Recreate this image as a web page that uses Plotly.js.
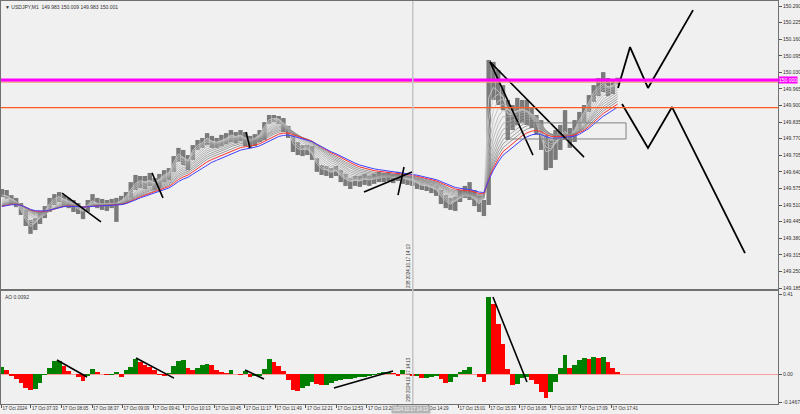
<!DOCTYPE html>
<html><head><meta charset="utf-8">
<script src="https://cdn.plot.ly/plotly-3.0.1.min.js"></script>
<style>html,body{margin:0;padding:0;background:#f0f0f0;}#chart{width:800px;height:414px;}</style>
</head><body><div id="chart"></div>
<script>
// ---------- texts ----------
const symbolLabel = '\u25BC USDJPY,M1  149.983 150.009 149.983 150.001';
const aoLabel = 'AO 0.0092';
const crosshairText = '2024.10.17 14:13';
const crosshairSideText = '238 2024.10.17 14:13';
const levelTagText = '150.000';

// ---------- time buckets (minutes after 07:00, 5-minute buckets) ----------
const bucketMinutes = 5;

// ---------- price ----------
const priceHigh = [
149.573,149.569,149.549,149.538,149.518,149.491,149.451,149.459,149.483,149.506,
149.538,149.553,149.561,149.549,149.538,149.530,149.518,149.506,149.530,149.553,
149.538,149.534,149.530,149.534,149.538,149.546,149.561,149.600,149.628,149.624,
149.624,149.636,149.616,149.632,149.647,149.655,149.702,149.734,149.726,149.706,
149.745,149.765,149.773,149.792,149.781,149.773,149.785,149.792,149.804,149.796,
149.804,149.796,149.781,149.788,149.804,149.835,149.863,149.863,149.859,149.851,
149.820,149.785,149.757,149.745,149.745,149.741,149.694,149.667,149.663,149.655,
149.663,149.647,149.632,149.616,149.624,149.624,149.632,149.624,149.632,149.640,
149.636,149.640,149.632,149.640,149.632,149.624,149.624,149.612,149.604,149.600,
149.593,149.585,149.569,149.549,149.538,149.542,149.569,149.585,149.600,149.569,
149.546,149.530,150.078,150.071,150.039,149.980,149.922,149.902,149.930,149.922,
149.922,149.890,149.863,149.843,149.785,149.765,149.804,149.824,149.882,149.812,
149.843,149.875,149.902,149.941,149.980,150.008,150.031,150.008,150.000,150.009];
const priceLow = [
149.542,149.534,149.514,149.502,149.471,149.428,149.397,149.412,149.436,149.459,
149.483,149.510,149.522,149.506,149.498,149.483,149.475,149.455,149.483,149.510,
149.498,149.491,149.487,149.498,149.444,149.510,149.518,149.538,149.569,149.577,
149.573,149.585,149.569,149.577,149.600,149.608,149.640,149.679,149.667,149.647,
149.687,149.726,149.734,149.745,149.734,149.734,149.741,149.749,149.757,149.753,
149.761,149.741,149.734,149.741,149.757,149.765,149.828,149.835,149.828,149.796,
149.773,149.718,149.706,149.702,149.706,149.687,149.640,149.628,149.624,149.616,
149.624,149.600,149.585,149.573,149.585,149.581,149.589,149.585,149.593,149.600,
149.600,149.604,149.596,149.604,149.593,149.589,149.585,149.573,149.569,149.565,
149.557,149.546,149.514,149.498,149.491,149.487,149.522,149.538,149.530,149.506,
149.483,149.467,149.510,149.922,149.902,149.882,149.765,149.804,149.824,149.835,
149.824,149.812,149.785,149.726,149.647,149.655,149.687,149.726,149.765,149.734,
149.757,149.804,149.835,149.875,149.914,149.937,149.953,149.937,149.945,149.983];
const priceClose = [
149.561,149.546,149.530,149.514,149.483,149.444,149.420,149.444,149.471,149.491,
149.522,149.538,149.546,149.530,149.518,149.506,149.491,149.483,149.518,149.530,
149.514,149.510,149.514,149.514,149.518,149.530,149.546,149.577,149.600,149.608,
149.600,149.608,149.593,149.616,149.632,149.640,149.687,149.718,149.694,149.679,
149.734,149.749,149.757,149.777,149.757,149.753,149.765,149.773,149.788,149.777,
149.785,149.765,149.757,149.773,149.788,149.824,149.851,149.851,149.847,149.820,
149.796,149.741,149.726,149.726,149.730,149.706,149.663,149.647,149.647,149.636,
149.647,149.620,149.608,149.600,149.608,149.604,149.616,149.608,149.616,149.624,
149.624,149.628,149.616,149.624,149.616,149.608,149.608,149.593,149.585,149.585,
149.577,149.569,149.538,149.522,149.510,149.530,149.546,149.561,149.546,149.530,
149.510,149.546,150.020,149.980,149.953,149.930,149.851,149.863,149.882,149.890,
149.875,149.851,149.824,149.765,149.706,149.726,149.765,149.785,149.804,149.773,
149.812,149.851,149.882,149.922,149.961,149.977,149.992,149.969,149.980,150.001];

// ---------- Awesome Oscillator ----------
const aoValues = [
0.036,0.021,-0.010,-0.026,-0.046,-0.072,-0.082,-0.077,-0.046,-0.005,
0.031,0.067,0.067,0.041,0.015,-0.002,-0.015,-0.036,-0.010,0.026,
0.010,0.002,-0.005,-0.005,0.010,-0.015,0.021,0.036,0.077,0.062,
0.046,0.036,0.021,-0.005,-0.010,0.005,0.041,0.067,0.072,0.031,
0.021,0.031,0.046,0.051,0.046,0.021,0.010,0.005,0.021,-0.002,
-0.005,0.015,-0.015,-0.010,-0.010,0.026,0.077,0.062,0.041,0.015,
-0.031,-0.082,-0.087,-0.072,-0.062,-0.041,-0.051,-0.056,-0.056,-0.046,
-0.036,-0.031,-0.026,-0.026,-0.021,-0.015,-0.015,-0.010,-0.005,0.005,
0.010,0.010,0.005,-0.010,0.021,0.002,-0.010,-0.010,-0.021,-0.021,
-0.015,-0.010,-0.026,-0.046,-0.041,-0.015,0.010,0.021,0.036,-0.002,
-0.015,-0.041,0.395,0.359,0.257,0.154,0.026,-0.056,-0.051,-0.021,
-0.015,-0.031,-0.051,-0.092,-0.123,-0.092,-0.041,0.031,0.097,0.031,
0.046,0.072,0.082,0.077,0.087,0.082,0.087,0.062,0.031,0.009];

// ---------- axes ticks ----------
const xTickMinutes = [2,33,65,97,129,161,193,225,257,289,321,353,385,417,449,481,513,545,577,609,641];
const xTickText = ['17 Oct 2024','17 Oct 07:33','17 Oct 08:05','17 Oct 08:37','17 Oct 09:09','17 Oct 09:41',
 '17 Oct 10:13','17 Oct 10:45','17 Oct 11:17','17 Oct 11:49','17 Oct 12:21','17 Oct 12:53','17 Oct 13:25',
 '','Oct 14:29','17 Oct 15:01','17 Oct 15:33','17 Oct 16:05','17 Oct 16:37','17 Oct 17:09','17 Oct 17:41'];
const priceTicks = [150.290,150.225,150.160,150.095,150.030,149.965,149.900,149.835,149.770,149.705,
 149.640,149.575,149.510,149.445,149.380,149.315,149.250,149.185];
const aoTickVals = [0.41, 0, -0.1467];
const aoTickText = ['0.41','0.00','-0.1467'];

// ---------- moving-average ribbon settings ----------
const ribbonPeriods = [6,10,14,18,23,28,34,40,46,53,60,68];
const ribbonColors = ['#d0d0d0','#c9c9c9','#c2c2c2','#bbbbbb','#b4b4b4','#adadad','#a6a6a6','#9f9f9f','#989898','#919191','#8a8a8a','#838383'];
const slowPeriods = [78, 90];
const slowColors = ['#ff3030', '#4040ff'];
const ribbonSeed = 149.498;

// ---------- levels & drawings ----------
const levelMagenta = 150.000;
const levelSalmon = 149.992;
const levelOrange = 149.892;
const crosshairMinute = 433;
const mainTrendLines = [
 [65.5,149.557,106.3,149.444],
 [159.8,149.636,171.3,149.538],
 [258.3,149.796,262.4,149.734],
 [381.9,149.561,432.2,149.640],
 [417.5,149.549,423.8,149.659],
 [513.9,150.071,558.9,149.706],
 [513.9,150.071,612.4,149.698]
];
const zigzagUpT = [648.0,660.6,679.4,726.6];
const zigzagUpP = [149.969,150.129,149.969,150.274];
const zigzagDownT = [652.2,679.4,704.6,781.0];
const zigzagDownP = [149.906,149.734,149.894,149.322];
const aoTrendLines = [
 [60.2,0.072,91.7,-0.015],
 [143.0,0.082,182.8,-0.021],
 [257.2,0.021,277.1,-0.026],
 [350.4,-0.072,412.3,0.015],
 [517.0,0.395,552.6,-0.041]
];
const boxZone = [533.8,656.4,149.832,149.769];

// ---------- build ----------
const t = priceClose.map((_, i) => i * bucketMinutes + bucketMinutes / 2);
const priceOpen = priceClose.map((c, i) => i === 0 ? c : priceClose[i - 1]);

function ema(values, period, seed) {
  const a = 1 - Math.pow(1 - 2 / (period + 1), bucketMinutes);
  let v = seed; const out = [];
  for (const x of values) { v = v + a * (x - v); out.push(v); }
  return out;
}

const traces = [];
traces.push({
  type: 'ohlc', x: t, open: priceOpen, high: priceHigh, low: priceLow, close: priceClose,
  xaxis: 'x2', yaxis: 'y', tickwidth: 0, hoverinfo: 'skip',
  increasing: {line: {color: '#7a7a7a', width: 4.4}},
  decreasing: {line: {color: '#7a7a7a', width: 4.4}}
});
ribbonPeriods.forEach((p, k) => traces.push({
  type: 'scatter', mode: 'lines', x: t, y: ema(priceClose, p, ribbonSeed), xaxis: 'x2', yaxis: 'y',
  line: {color: ribbonColors[k], width: 0.8}, hoverinfo: 'skip'
}));
slowPeriods.forEach((p, k) => traces.push({
  type: 'scatter', mode: 'lines', x: t, y: ema(priceClose, p, ribbonSeed), xaxis: 'x2', yaxis: 'y',
  line: {color: slowColors[k], width: 1}, hoverinfo: 'skip'
}));
const tlx = [], tly = [];
mainTrendLines.forEach(s => { tlx.push(s[0], s[2], null); tly.push(s[1], s[3], null); });
traces.push({type: 'scatter', mode: 'lines', x: tlx, y: tly, xaxis: 'x2', yaxis: 'y', line: {color: '#000', width: 1.6}, hoverinfo: 'skip'});
traces.push({type: 'scatter', mode: 'lines', x: zigzagUpT, y: zigzagUpP, xaxis: 'x2', yaxis: 'y', line: {color: '#000', width: 1.8}, hoverinfo: 'skip'});
traces.push({type: 'scatter', mode: 'lines', x: zigzagDownT, y: zigzagDownP, xaxis: 'x2', yaxis: 'y', line: {color: '#000', width: 1.8}, hoverinfo: 'skip'});
const aoColors = aoValues.map((v, i) => (i === 0 || v >= aoValues[i - 1]) ? '#008000' : '#ff0000');
traces.push({type: 'bar', x: t, y: aoValues, width: bucketMinutes, xaxis: 'x', yaxis: 'y2',
  marker: {color: aoColors, line: {width: 0}}, hoverinfo: 'skip'});
const alx = [], aly = [];
aoTrendLines.forEach(s => { alx.push(s[0], s[2], null); aly.push(s[1], s[3], null); });
traces.push({type: 'scatter', mode: 'lines', x: alx, y: aly, xaxis: 'x', yaxis: 'y2', line: {color: '#000', width: 1.6}, hoverinfo: 'skip'});

const xRange = [1.6, 815.6];
const font = {family: 'Liberation Sans, Arial, sans-serif', size: 5, color: '#303030'};
const xFont = {family: 'Liberation Sans, Arial, sans-serif', size: 4.5, color: '#303030'};
const layout = {
  width: 800, height: 414, showlegend: false, bargap: 0,
  paper_bgcolor: '#f0f0f0', plot_bgcolor: '#f0f0f0',
  margin: {l: 1, r: 22, t: 1, b: 10},
  font: font,
  xaxis: {domain: [0, 1], range: xRange, anchor: 'y2', showgrid: false, zeroline: false,
    rangeslider: {visible: false},
    showline: true, linecolor: '#707070', linewidth: 1, mirror: true,
    tickmode: 'array', tickvals: xTickMinutes, ticktext: xTickText, ticks: 'outside', ticklen: 3,
    tickcolor: '#555', ticklabelposition: 'outside right', tickfont: xFont, tickangle: 0},
  xaxis2: {domain: [0, 1], range: xRange, anchor: 'y', matches: 'x', showgrid: false, zeroline: false,
    rangeslider: {visible: false},
    showline: true, linecolor: '#707070', linewidth: 1, mirror: true, showticklabels: false, ticks: ''},
  yaxis: {domain: [0.2854, 1], range: [149.1812, 150.3096], side: 'right', anchor: 'x2',
    showgrid: false, zeroline: false, showline: true, linecolor: '#707070', mirror: true,
    tickmode: 'array', tickvals: priceTicks, tickformat: '.3f', ticks: 'outside', ticklen: 3,
    tickcolor: '#555', tickfont: font},
  yaxis2: {domain: [0, 0.2804], range: [-0.1538, 0.4256], side: 'right', anchor: 'x',
    showgrid: false, zeroline: true, zerolinecolor: '#ff9c9c', zerolinewidth: 1,
    showline: true, linecolor: '#707070', mirror: true,
    tickmode: 'array', tickvals: aoTickVals, ticktext: aoTickText, ticks: 'outside', ticklen: 3,
    tickcolor: '#555', tickfont: font},
  shapes: [
    {type: 'line', xref: 'paper', x0: 0, x1: 1, yref: 'y', y0: levelSalmon, y1: levelSalmon, line: {color: '#f4a27a', width: 1.5}},
    {type: 'line', xref: 'paper', x0: 0, x1: 1, yref: 'y', y0: levelMagenta, y1: levelMagenta, line: {color: '#ff00ff', width: 3}},
    {type: 'line', xref: 'paper', x0: 0, x1: 1, yref: 'y', y0: levelOrange, y1: levelOrange, line: {color: '#ff5a1f', width: 1.3}},
    {type: 'line', xref: 'x', x0: crosshairMinute, x1: crosshairMinute, yref: 'paper', y0: 0, y1: 1, line: {color: '#c4c4c4', width: 1.5}},
    {type: 'rect', xref: 'x2', yref: 'y', x0: boxZone[0], x1: boxZone[1], y0: boxZone[2], y1: boxZone[3], line: {color: '#808080', width: 1}, fillcolor: 'rgba(0,0,0,0)'}
  ],
  annotations: [
    {xref: 'paper', yref: 'paper', x: 0.003, y: 0.998, xanchor: 'left', yanchor: 'top', text: symbolLabel, showarrow: false, font: font},
    {xref: 'paper', yref: 'paper', x: 0.003, y: 0.278, xanchor: 'left', yanchor: 'top', text: aoLabel, showarrow: false, font: font},
    {xref: 'paper', yref: 'y', x: 1, y: levelMagenta, xanchor: 'left', yanchor: 'middle', text: levelTagText, showarrow: false,
      bgcolor: '#ff00ff', borderpad: 0, font: {family: font.family, size: 5, color: '#ffffff'}},
    {xref: 'x', yref: 'paper', x: crosshairMinute, xshift: -2, y: 0, yshift: -1, xanchor: 'center', yanchor: 'top', text: crosshairText, showarrow: false,
      bgcolor: '#b4b4b4', borderpad: 1, font: {family: font.family, size: 4.5, color: '#f4f4f4'}},
    {xref: 'x2', yref: 'y', x: crosshairMinute, xshift: -4, y: 149.27, textangle: -90, text: crosshairSideText, showarrow: false, font: xFont},
    {xref: 'x', yref: 'y2', x: crosshairMinute, xshift: -4, y: -0.03, textangle: -90, text: crosshairSideText, showarrow: false, font: xFont}
  ]
};
Plotly.newPlot('chart', traces, layout, {displayModeBar: false, staticPlot: true});
</script></body></html>
